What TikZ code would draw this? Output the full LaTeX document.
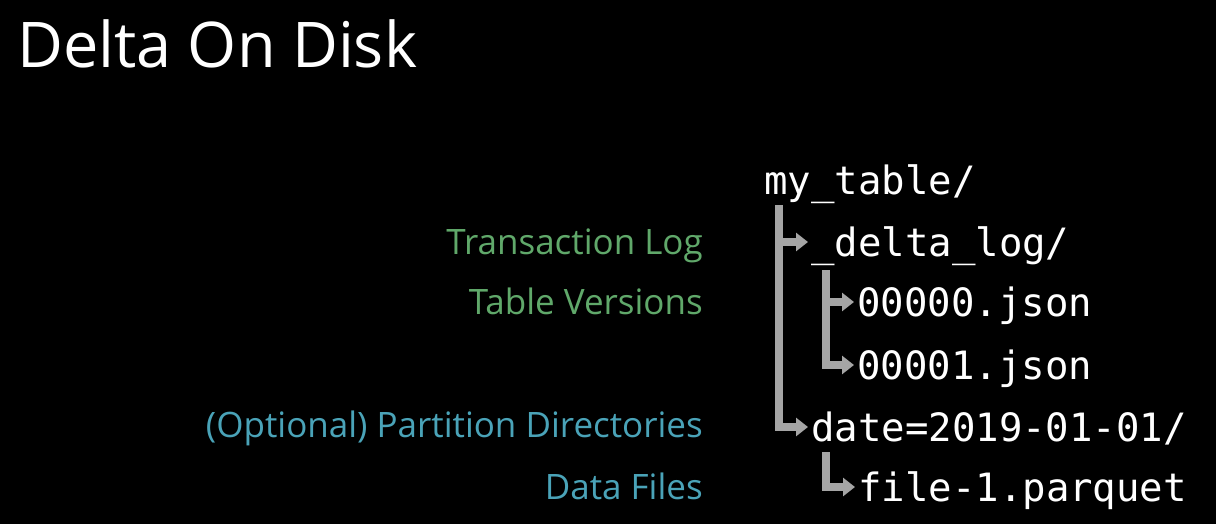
\documentclass[tikz,border=0pt]{standalone}
\usepackage{fontspec}
\setmainfont{Open Sans}
\setmonofont{DejaVu Sans Mono}
\usetikzlibrary{arrows.meta}

\definecolor{logGreen}{RGB}{96,168,106}
\definecolor{dataTeal}{RGB}{74,163,184}
\definecolor{treeGray}{RGB}{165,165,165}

\begin{document}
\begin{tikzpicture}
  [x=1pt,y=-1pt,
   title/.style={text=white,font=\fontsize{63}{63}\selectfont,anchor=base west,inner sep=0},
   entry/.style={text=white,font=\ttfamily\fontsize{39}{39}\selectfont,anchor=base west,inner sep=0,text height=28pt,text depth=0pt},
   logtext/.style={text=logGreen,font=\fontsize{35}{35}\selectfont,anchor=base east,inner sep=0},
   datatext/.style={text=dataTeal,font=\fontsize{35}{35}\selectfont,anchor=base east,inner sep=0},
   branch/.style={treeGray,line width=8.5pt,-{Triangle[length=12pt,width=18pt]},shorten >=3pt},]

  \fill[black] (0,0) rectangle (1216,524);
  \useasboundingbox (0,0) rectangle (1216,524);

  \node[title] (title) at (17,68) {Delta On Disk};

  % directory tree
  \node[entry] (root) at (764,194) {my\_table/};
  \node[entry] (deltalog) at (811,256) {\_delta\_log/};
  \node[entry] (v0) at (857,316) {00000.json};
  \node[entry] (v1) at (857,379) {00001.json};
  \node[entry] (date) at (811,441) {date=2019-01-01/};
  \node[entry] (file) at (858,501) {file-1.parquet};

  % what each part is
  \node[logtext] (txlog) at (703,254) {Transaction Log};
  \node[logtext] (versions) at (703,314) {Table Versions};
  \node[datatext] (partition) at (703,437) {(Optional) Partition Directories};
  \node[datatext] (datafiles) at (703,499) {Data Files};

  \coordinate (rootstem) at ([xshift=15pt,yshift=-11pt]root.base west);
  \coordinate (logstem) at ([xshift=15pt,yshift=-14pt]deltalog.base west);
  \coordinate (datestem) at ([xshift=15pt,yshift=-11pt]date.base west);

  \draw[branch] (rootstem) |- (deltalog.west);
  \draw[branch] (rootstem) |- (date.west);
  \draw[branch] (logstem) |- (v0.west);
  \draw[branch] (logstem) |- (v1.west);
  \draw[branch] (datestem) |- (file.west);

\end{tikzpicture}
\end{document}
